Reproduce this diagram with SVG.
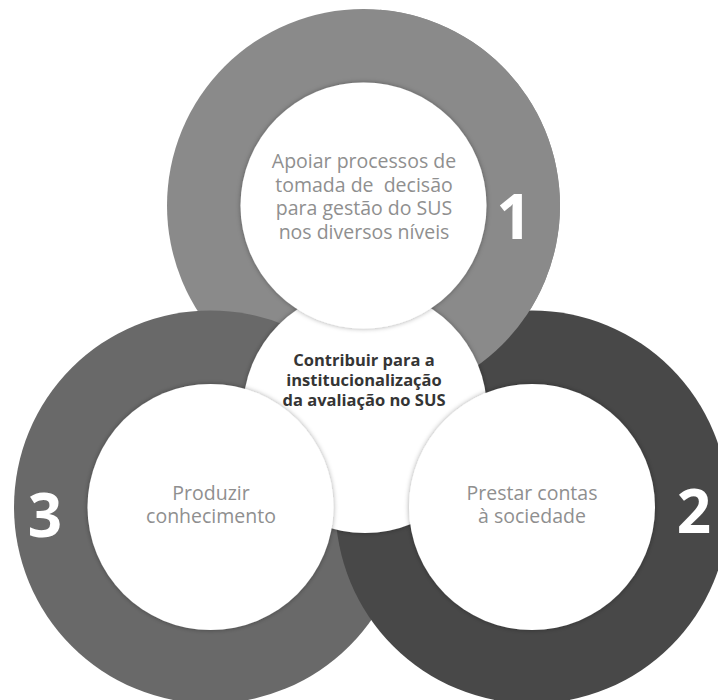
<svg xmlns="http://www.w3.org/2000/svg" width="718" height="700" viewBox="0 0 718 700">
  <defs>
    <style>
      .band1 { fill: #8a8a8a; }
      .band2 { fill: #484848; }
      .band3 { fill: #696969; }
      .face { fill: #ffffff; filter: url(#soft); }
      .label { font-family: "Open Sans", "Noto Sans", "DejaVu Sans", sans-serif; font-size: 19.5px; fill: #8f8f8f; text-anchor: middle; }
      .core { font-family: "Open Sans", "Noto Sans", "DejaVu Sans", sans-serif; font-size: 16.5px; font-weight: 700; fill: #353535; text-anchor: middle; }
      .num { font-family: "Open Sans", "Noto Sans", "DejaVu Sans", sans-serif; font-size: 60px; font-weight: 700; fill: #ffffff; text-anchor: middle; }
    </style>
    <filter id="soft" x="-10%" y="-10%" width="120%" height="120%">
      <feDropShadow dx="0" dy="0" stdDeviation="2.5" flood-color="#000000" flood-opacity="0.35"/>
    </filter>
    <clipPath id="upper-right">
      <rect x="380" y="0" width="338" height="420"/>
    </clipPath>
    <circle id="disc1" cx="363.5" cy="205.5" r="196.5"/>
  </defs>

  <rect x="0" y="0" width="718" height="700" fill="#ffffff"/>

  <!-- coloured bands: 1 under 3, 3 under 2, 2 under 1 -->
  <g id="bands">
    <use href="#disc1" class="band1"/>
    <circle class="band3" cx="210.5" cy="507" r="196.5"/>
    <circle class="band2" cx="532" cy="507" r="196.5"/>
    <use href="#disc1" class="band1" clip-path="url(#upper-right)"/>
  </g>

  <!-- central goal -->
  <g id="center">
    <circle class="face" cx="365" cy="411" r="122"/>
    <text class="core"><tspan x="364" y="366">Contribuir para a</tspan><tspan x="364" y="386">institucionalização</tspan><tspan x="364" y="406">da avaliação no SUS</tspan></text>
  </g>

  <!-- objective 1 -->
  <g id="node-1">
    <circle class="face" cx="363.5" cy="205.5" r="123"/>
    <text class="label" xml:space="preserve"><tspan x="364" y="168">Apoiar processos de</tspan><tspan x="364" y="191.5">tomada de  decisão</tspan><tspan x="364" y="215">para gestão do SUS</tspan><tspan x="364" y="238.5">nos diversos níveis</tspan></text>
    <text class="num" x="514" y="239" style="font-size:62px">1</text>
  </g>

  <!-- objective 2 -->
  <g id="node-2">
    <circle class="face" cx="532" cy="507" r="123"/>
    <text class="label"><tspan x="532" y="500">Prestar contas</tspan><tspan x="532" y="523">à sociedade</tspan></text>
    <text class="num" x="694" y="533">2</text>
  </g>

  <!-- objective 3 -->
  <g id="node-3">
    <circle class="face" cx="210.5" cy="507" r="123"/>
    <text class="label"><tspan x="211" y="500">Produzir</tspan><tspan x="211" y="523">conhecimento</tspan></text>
    <text class="num" x="45" y="537">3</text>
  </g>
</svg>
